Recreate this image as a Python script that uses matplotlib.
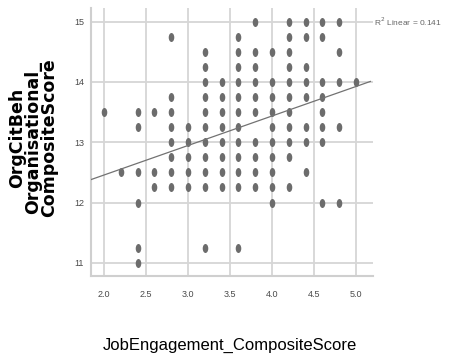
import numpy as np
import matplotlib.pyplot as plt
from matplotlib.path import Path
from matplotlib.transforms import Affine2D

# Job engagement levels (x) and the citizenship scores observed at each level
engagement_levels = [2.0, 2.2, 2.4, 2.6, 2.8, 3.0, 3.2, 3.4, 3.6, 3.8, 4.0, 4.2, 4.4, 4.6, 4.8, 5.0]

ocb_2_0 = [13.5]
ocb_2_2 = [12.5]
ocb_2_4 = [13.5, 13.25, 12.5, 12.0, 11.25, 11.0]
ocb_2_6 = [13.5, 12.5, 12.25]
ocb_2_8 = [14.75, 13.75, 13.5, 13.25, 13.0, 12.75, 12.5, 12.25]
ocb_3_0 = [13.25, 13.0, 12.75, 12.5, 12.25]
ocb_3_2 = [14.5, 14.25, 14.0, 13.75, 13.5, 13.25, 13.0, 12.75, 12.5, 12.25, 11.25]
ocb_3_4 = [14.0, 13.75, 13.5, 13.25, 13.0, 12.75, 12.5, 12.25]
ocb_3_6 = [14.75, 14.5, 14.25, 14.0, 13.75, 13.5, 13.25, 13.0, 12.75, 12.5, 12.25, 11.25]
ocb_3_8 = [15.0, 14.5, 14.25, 14.0, 13.75, 13.5, 13.0, 12.75, 12.5, 12.25]
ocb_4_0 = [14.5, 14.0, 13.75, 13.5, 13.25, 13.0, 12.75, 12.5, 12.25, 12.0]
ocb_4_2 = [15.0, 14.75, 14.5, 14.25, 14.0, 13.75, 13.5, 13.25, 13.0, 12.75, 12.25]
ocb_4_4 = [15.0, 14.75, 14.25, 14.0, 13.75, 13.25, 13.0, 12.5]
ocb_4_6 = [15.0, 14.75, 14.0, 13.75, 13.5, 13.25, 13.0, 12.0]
ocb_4_8 = [15.0, 14.5, 14.0, 13.25, 12.0]
ocb_5_0 = [14.0]

columns = [ocb_2_0, ocb_2_2, ocb_2_4, ocb_2_6, ocb_2_8, ocb_3_0, ocb_3_2, ocb_3_4,
           ocb_3_6, ocb_3_8, ocb_4_0, ocb_4_2, ocb_4_4, ocb_4_6, ocb_4_8, ocb_5_0]

# linear fit line (intercept, slope) and its R squared
fit_intercept = 11.476
fit_slope = 0.49
r_squared = 0.141

x_ticks = [2.0, 2.5, 3.0, 3.5, 4.0, 4.5, 5.0]
y_ticks = [11, 12, 13, 14, 15]

xs, ys = [], []
for lvl, col in zip(engagement_levels, columns):
    xs += [lvl] * len(col)
    ys += col

plt.rcParams['font.family'] = ['Liberation Sans', 'DejaVu Sans']

fig = plt.figure(figsize=(4.57, 3.58), dpi=100)
ax = fig.add_axes([0.199, 0.229, 0.617, 0.749])

# tall ellipse marker
oval = Path.unit_circle().transformed(Affine2D().scale(0.62, 1.0))
ax.scatter(xs, ys, marker=oval, s=42, color='#6c6c6c', linewidths=0, zorder=3)

xlim = (1.845, 5.2)
line_x = np.array([xlim[0], 5.17])
ax.plot(line_x, fit_intercept + fit_slope * line_x, color='#727272', lw=0.9, zorder=4)

ax.set_xlim(*xlim)
ax.set_ylim(10.78, 15.23)
ax.set_xticks(x_ticks)
ax.set_xticklabels([f"{t:.1f}" for t in x_ticks])
ax.set_yticks(y_ticks)
ax.tick_params(length=0, labelsize=6.5, labelcolor='#4a4a4a')
ax.tick_params(axis='x', pad=10)
ax.tick_params(axis='y', pad=5)

ax.grid(True, color='#d6d6d6', lw=1.3)
ax.set_axisbelow(True)
for side in ['top', 'right']:
    ax.spines[side].set_visible(False)
for side in ['left', 'bottom']:
    ax.spines[side].set_color('#cfcfcf')
    ax.spines[side].set_linewidth(1.5)

ax.text(1.004, 15.0, f"R$^2$ Linear = {r_squared:.3f}", transform=ax.get_yaxis_transform(),
        fontsize=6, color='#666666', va='center', ha='left', clip_on=False)

ax.set_xlabel("JobEngagement_CompositeScore", fontsize=12)
ax.xaxis.set_label_coords(0.493, -0.257)
ax.xaxis.label.set_va('center')

ax.set_ylabel("OrgCitBeh\nOrganisational_\nCompositeScore", fontsize=12.5,
              fontweight='bold', family='DejaVu Sans', linespacing=0.85)
ax.yaxis.set_label_coords(-0.206, 0.515)
ax.yaxis.label.set_va('center')

fig.savefig('out.png', dpi=100)
